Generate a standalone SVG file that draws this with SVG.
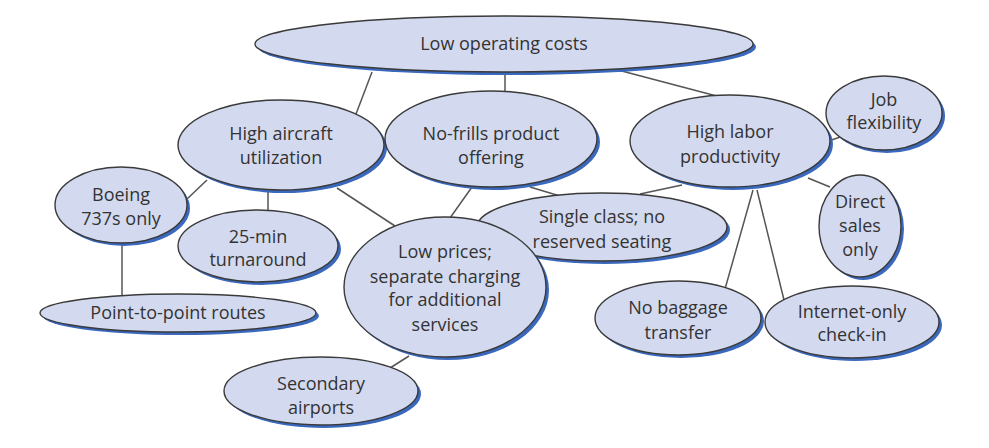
<svg xmlns="http://www.w3.org/2000/svg" width="989" height="448" viewBox="0 0 989 448">
<style>
.sh{fill:#3a68bd}
.el{fill:#d3daf0;stroke:#3a3a3a;stroke-width:1.4}
.t{font-family:"Open Sans","Liberation Sans",sans-serif;font-size:18px;fill:#333;text-anchor:middle}
.c line{stroke:#555;stroke-width:1.5}
</style>
<rect width="989" height="448" fill="#fff"/>
<g class="c" id="connectors">
<line x1="372" y1="72" x2="356" y2="114"/>
<line x1="505" y1="72" x2="505" y2="92"/>
<line x1="618" y1="70" x2="728" y2="99"/>
<line x1="207" y1="180" x2="186" y2="200"/>
<line x1="268" y1="189" x2="268" y2="211"/>
<line x1="337" y1="188" x2="395" y2="226"/>
<line x1="122" y1="242" x2="122" y2="295"/>
<line x1="472" y1="187" x2="450" y2="218"/>
<line x1="530" y1="187" x2="560" y2="196"/>
<line x1="682" y1="185" x2="640" y2="194"/>
<line x1="826" y1="142" x2="843" y2="136"/>
<line x1="808" y1="178" x2="830" y2="187"/>
<line x1="753" y1="190" x2="725" y2="289"/>
<line x1="757" y1="190" x2="784" y2="300"/>
<line x1="409" y1="356" x2="390" y2="368"/>
</g>
<g id="n-low-operating-costs"><ellipse class="sh" cx="507" cy="47" rx="249" ry="28"/><ellipse class="el" cx="504" cy="44" rx="249" ry="28"/><text class="t" x="504" y="50">Low operating costs</text></g>
<g id="n-high-aircraft"><ellipse class="sh" cx="284" cy="148" rx="103" ry="45"/><ellipse class="el" cx="281" cy="145" rx="103" ry="45"/><text class="t" x="281" y="140">High aircraft</text><text class="t" x="281" y="164">utilization</text></g>
<g id="n-no-frills"><ellipse class="sh" cx="494" cy="142" rx="106" ry="48"/><ellipse class="el" cx="491" cy="139" rx="106" ry="48"/><text class="t" x="491" y="140">No-frills product</text><text class="t" x="491" y="164">offering</text></g>
<g id="n-high-labor"><ellipse class="sh" cx="733" cy="144" rx="100" ry="46"/><ellipse class="el" cx="730" cy="141" rx="100" ry="46"/><text class="t" x="730" y="138">High labor</text><text class="t" x="730" y="163">productivity</text></g>
<g id="n-job-flex"><ellipse class="sh" cx="887" cy="116" rx="58" ry="37"/><ellipse class="el" cx="884" cy="113" rx="58" ry="37"/><text class="t" x="884" y="106">Job</text><text class="t" x="884" y="129">flexibility</text></g>
<g id="n-boeing"><ellipse class="sh" cx="124" cy="208" rx="66" ry="38"/><ellipse class="el" cx="121" cy="205" rx="66" ry="38"/><text class="t" x="121" y="201">Boeing</text><text class="t" x="121" y="225">737s only</text></g>
<g id="n-turnaround"><ellipse class="sh" cx="261" cy="249" rx="80" ry="36"/><ellipse class="el" cx="258" cy="246" rx="80" ry="36"/><text class="t" x="258" y="243">25-min</text><text class="t" x="258" y="266">turnaround</text></g>
<g id="n-point"><ellipse class="sh" cx="181" cy="316" rx="138" ry="19"/><ellipse class="el" cx="178" cy="313" rx="138" ry="19"/><text class="t" x="178" y="319">Point-to-point routes</text></g>
<g id="n-single-class"><ellipse class="sh" cx="605" cy="230" rx="125" ry="34"/><ellipse class="el" cx="602" cy="227" rx="125" ry="34"/><text class="t" x="602" y="223">Single class; no</text><text class="t" x="602" y="248">reserved seating</text></g>
<g id="n-low-prices"><ellipse class="sh" cx="448" cy="290" rx="101" ry="70"/><ellipse class="el" cx="445" cy="287" rx="101" ry="70"/><text class="t" x="445" y="258">Low prices;</text><text class="t" x="445" y="283">separate charging</text><text class="t" x="445" y="306">for additional</text><text class="t" x="445" y="331">services</text></g>
<g id="n-secondary"><ellipse class="sh" cx="324" cy="394" rx="97" ry="34"/><ellipse class="el" cx="321" cy="391" rx="97" ry="34"/><text class="t" x="321" y="390">Secondary</text><text class="t" x="321" y="414">airports</text></g>
<g id="n-direct"><ellipse class="sh" cx="863" cy="229" rx="41" ry="51"/><ellipse class="el" cx="860" cy="226" rx="41" ry="51"/><text class="t" x="860" y="208">Direct</text><text class="t" x="860" y="232">sales</text><text class="t" x="860" y="256">only</text></g>
<g id="n-baggage"><ellipse class="sh" cx="681" cy="321" rx="83" ry="37"/><ellipse class="el" cx="678" cy="318" rx="83" ry="37"/><text class="t" x="678" y="314">No baggage</text><text class="t" x="678" y="339">transfer</text></g>
<g id="n-internet"><ellipse class="sh" cx="855" cy="325" rx="87" ry="36"/><ellipse class="el" cx="852" cy="322" rx="87" ry="36"/><text class="t" x="852" y="318">Internet-only</text><text class="t" x="852" y="341">check-in</text></g>
</svg>
